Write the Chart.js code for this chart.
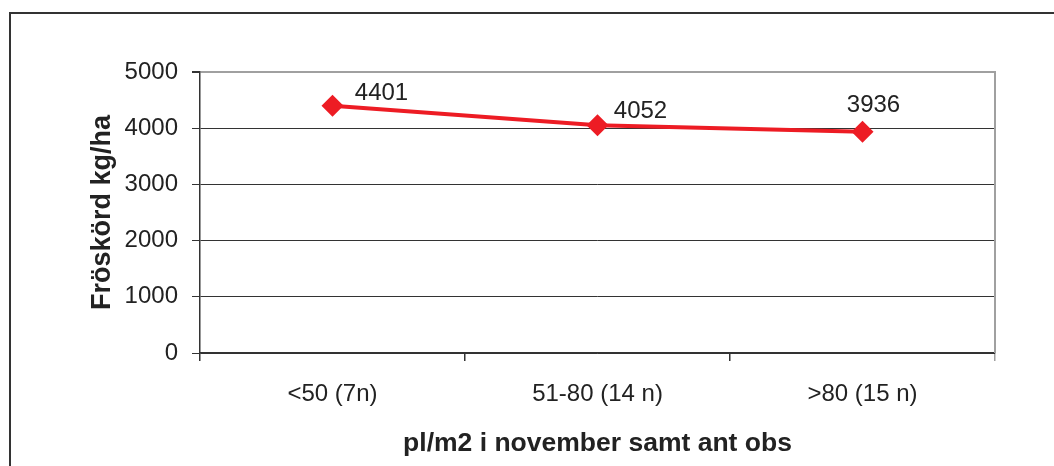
<!DOCTYPE html>
<html>
<head>
<meta charset="utf-8">
<script src="https://cdn.jsdelivr.net/npm/chart.js@4"></script>
<style>
    html, body { margin:0; padding:0; background:#fff; }
    #wrap { position:relative; width:1054px; height:466px; overflow:hidden; }
    #frame { position:absolute; left:9px; top:12px; width:1100px; height:500px; border:2px solid #333; box-sizing:border-box; }
    #chart { position:absolute; left:0; top:0; }
</style>
</head>
<body>
<div id="wrap">
    <div id="frame"></div>
    <canvas id="chart" width="1054" height="466"></canvas>
</div>
<script>
// Data
const categories = ["<50 (7n)", "51-80 (14 n)", ">80 (15 n)"];
const yield_kg = [4401, 4052, 3936];
const yTicks = [0, 1000, 2000, 3000, 4000, 5000];

const FONT = "'Liberation Sans', Arial, sans-serif";
const RED = "#ed1c24";

// etiquettes des points (décalage comme dans l'original)
const labelPlugin = {
    id: "pointLabels",
    afterDatasetsDraw(chart, args, opts){
        const ctx = chart.ctx;
        const meta = chart.getDatasetMeta(0);
        ctx.save();
        ctx.font = "24px " + FONT;
        ctx.fillStyle = "#222";
        ctx.textAlign = "center";
        ctx.textBaseline = "middle";
        meta.data.forEach((pt, i)=>{
            const off = opts.offsets[i];
            ctx.fillText(String(yield_kg[i]), pt.x + off[0], pt.y + off[1]);
        });
        ctx.restore();
    }
};

// bord droit gris de la zone du graphique
const borderPlugin = {
    id: "rightBorder",
    beforeDatasetsDraw(chart){
        const {ctx, chartArea} = chart;
        ctx.save();
        ctx.strokeStyle = "#a0a0a0";
        ctx.lineWidth = 2;
        ctx.beginPath();
        ctx.moveTo(chartArea.right, chartArea.top - 1);
        ctx.lineTo(chartArea.right, chartArea.bottom);
        ctx.stroke();
        ctx.restore();
    }
};

new Chart(document.getElementById("chart"), {
    type: "line",
    data: {
        labels: categories,
        datasets: [{
            data: yield_kg,
            borderColor: RED,
            backgroundColor: RED,
            borderWidth: 4,
            pointStyle: "rectRot",
            pointRadius: 11,
            pointBorderWidth: 0,
            tension: 0
        }]
    },
    options: {
        responsive: false,
        animation: false,
        layout: { padding: { top: 72, right: 59, bottom: 0, left: 0 } },
        plugins: {
            legend: { display: false },
            tooltip: { enabled: false },
            pointLabels: { offsets: [[49, -12], [43, -14], [11, -26]] }
        },
        scales: {
            x: {
                offset: true,
                afterFit: s => { s.height = 113; },
                grid: {
                    offset: true,
                    drawOnChartArea: false,
                    tickLength: 8,
                    color: c => c.type === "tick" ? "#333" : "#a0a0a0",
                    lineWidth: 1.5
                },
                border: { color: "#333", width: 1.5 },
                ticks: { font: { family: FONT, size: 24 }, color: "#222", padding: 19 },
                title: {
                    display: true,
                    text: "pl/m2 i november samt ant obs",
                    font: { family: FONT, size: 26.5, weight: "bold" },
                    color: "#222",
                    padding: { top: 0, bottom: 6 }
                }
            },
            y: {
                min: 0,
                max: 5000,
                afterFit: s => { s.width = 200; },
                afterBuildTicks: s => { s.ticks = yTicks.map(v => ({ value: v })); },
                grid: {
                    tickLength: 8,
                    color: c => c.tick && c.tick.value === 5000 ? "#a0a0a0" : "#333",
                    tickColor: "#333",
                    lineWidth: c => c.tick && c.tick.value === 5000 ? 2 : 1
                },
                border: { color: "#333", width: 1.5 },
                ticks: {
                    font: { family: FONT, size: 24 },
                    color: "#222",
                    padding: 14,
                    callback: v => String(v)
                },
                title: {
                    display: true,
                    text: "Fröskörd kg/ha",
                    font: { family: FONT, size: 27, weight: "bold" },
                    color: "#222",
                    padding: { top: 86, bottom: 0 }
                }
            }
        }
    },
    plugins: [labelPlugin, borderPlugin]
});
</script>
</body>
</html>
